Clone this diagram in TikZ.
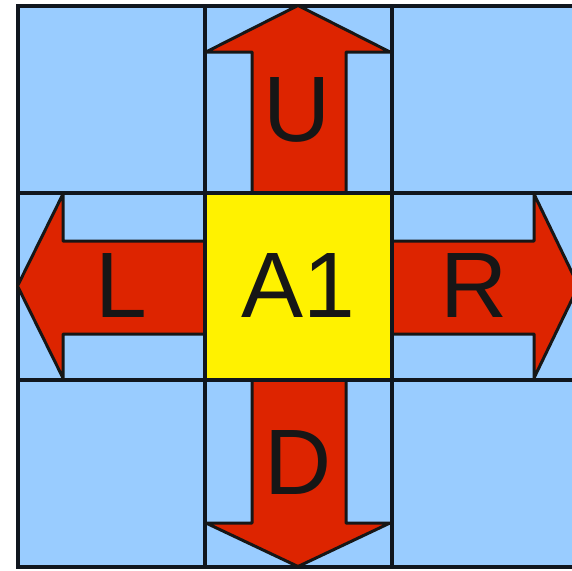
\documentclass[tikz,border=0pt]{standalone}
\usepackage{fontspec}
\setmainfont{Liberation Sans}
\usetikzlibrary{positioning}
\usepackage{xcolor}
\definecolor{cellblue}{RGB}{153,204,255}
\definecolor{arrowred}{RGB}{221,36,0}
\definecolor{gridline}{RGB}{16,22,30}
\definecolor{inkdark}{RGB}{22,22,22}

\begin{document}
\begin{tikzpicture}[
    x=1pt, y=-1pt,
    cell/.style={rectangle, draw=gridline, line width=4pt, fill=cellblue,
                 minimum width=187pt, minimum height=187pt, inner sep=0pt},
    centre/.style={cell, fill=yellow},
    arrowbody/.style={fill=arrowred, draw=inkdark, line width=3pt, line join=round},
    letterlabel/.style={font=\fontsize{93}{93}\selectfont, text=inkdark, inner sep=0pt},
]
\useasboundingbox (0,0) rectangle (572,570);
\clip (0,0) rectangle (572,570);

% Grid of cells
\foreach \col/\cx in {0/111, 1/298, 2/485} {
  \foreach \row/\cy in {0/99, 1/286, 2/473} {
    \node[cell] (c\row\col) at (\cx,\cy) {};
  }
}

% Direction arrows
\filldraw[arrowbody] (252,192.5) -- (252,52) -- (206,52) -- (298,5.5) -- (390,52) -- (346,52) -- (346,192.5);
\filldraw[arrowbody] (252,379.5) -- (252,523) -- (206,523) -- (298,566.5) -- (390,523) -- (346,523) -- (346,379.5);
\filldraw[arrowbody] (204.5,241) -- (63,241) -- (63,194) -- (17.5,286) -- (63,378) -- (63,334) -- (204.5,334);
\filldraw[arrowbody] (391.5,241) -- (534,241) -- (534,194) -- (578.5,286) -- (534,378) -- (534,334) -- (391.5,334);

% Centre cell and labels
\node[centre, letterlabel] (a1) at (298,286) {A1};
\node[letterlabel] (up) at (297,110) {U};
\node[letterlabel] (left) at (121.5,286) {L};
\node[letterlabel] (right) at (474,286) {R};
\node[letterlabel] (down) at (298,462) {D};

\end{tikzpicture}
\end{document}
